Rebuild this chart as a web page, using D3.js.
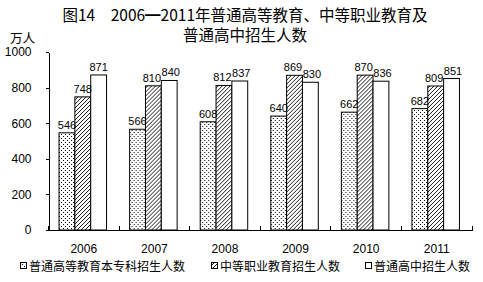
<!DOCTYPE html>
<html>
<head>
<meta charset="utf-8">
<script src="https://cdn.jsdelivr.net/npm/d3@7"></script>
<style>
  body { margin: 0; background: #fff; }
  svg { display: block; }
  .axis text { font-family: "Liberation Sans", Arial, sans-serif; font-size: 12px; fill: #000; }
  .axis path, .axis line { stroke: #000; shape-rendering: crispEdges; }
  .cjk { font-family: "Noto Sans CJK SC", sans-serif; fill: #000; }
  .lbl { font-family: "Liberation Sans", Arial, sans-serif; font-size: 11px; fill: #000; }
</style>
</head>
<body>
<svg id="chart" width="483" height="282"></svg>
<script>
var years = ['2006', '2007', '2008', '2009', '2010', '2011']
var higherEd = [546, 566, 608, 640, 662, 682]
var vocational = [748, 810, 812, 869, 870, 809]
var highSchool = [871, 840, 837, 830, 836, 851]
var seriesNames = ['普通高等教育本专科招生人数', '中等职业教育招生人数', '普通高中招生人数']
var yTicks = [0, 200, 400, 600, 800, 1000]

var seriesValues = [higherEd, vocational, highSchool]
var fills = ['url(#dots)', 'url(#hatch)', '#fff']

var svg = d3.select('#chart')

// patterns
var defs = svg.append('defs')
var dots = defs.append('pattern')
  .attr('id', 'dots')
  .attr('patternUnits', 'userSpaceOnUse')
  .attr('width', 4).attr('height', 4)
dots.append('rect').attr('width', 4).attr('height', 4).attr('fill', '#fff')
dots.append('rect').attr('x', 0).attr('y', 0).attr('width', 1).attr('height', 1).attr('fill', '#000')
dots.append('rect').attr('x', 2).attr('y', 2).attr('width', 1).attr('height', 1).attr('fill', '#000')

var hatch = defs.append('pattern')
  .attr('id', 'hatch')
  .attr('patternUnits', 'userSpaceOnUse')
  .attr('width', 4).attr('height', 4)
hatch.append('rect').attr('width', 4).attr('height', 4).attr('fill', '#fff')
hatch.append('path')
  .attr('d', 'M-1,1 l2,-2 M0,4 l4,-4 M3,5 l2,-2')
  .attr('stroke', '#000').attr('stroke-width', 0.9)

var plotLeft = 48.5, plotRight = 472, plotTop = 52, plotBottom = 230

var x0 = d3.scaleBand().domain(years).range([plotLeft, plotRight])
  .paddingInner(0.327).paddingOuter(0.1635)
var x1 = d3.scaleBand().domain([0, 1, 2]).range([0, x0.bandwidth()])
var y = d3.scaleLinear().domain([0, 1000]).range([plotBottom, plotTop])

// title
svg.append('text').attr('class', 'cjk')
  .attr('x', 245).attr('y', 21)
  .attr('text-anchor', 'middle').style('font-size', '15.5px')
  .text('图14\u30002006━2011年普通高等教育、中等职业教育及')
svg.append('text').attr('class', 'cjk')
  .attr('x', 245).attr('y', 41)
  .attr('text-anchor', 'middle').style('font-size', '15.5px')
  .text('普通高中招生人数')

svg.append('text').attr('class', 'cjk')
  .attr('x', 10).attr('y', 43)
  .style('font-size', '12.5px')
  .text('万人')

// bars
var groups = svg.selectAll('g.grp')
  .data(years)
  .enter().append('g')
    .attr('class', 'grp')
    .attr('transform', function (d) { return 'translate(' + (x0(d) - 1) + ',0)' })

function groupData (d, i) {
  return seriesValues.map(function (s, k) { return { k: k, v: s[i] } })
}

groups.selectAll('rect')
  .data(groupData)
  .enter().append('rect')
    .attr('x', function (d) { return x1(d.k) })
    .attr('y', function (d) { return y(d.v) })
    .attr('width', x1.bandwidth())
    .attr('height', function (d) { return plotBottom - y(d.v) })
    .attr('fill', function (d) { return fills[d.k] })
    .attr('stroke', '#000')
    .attr('stroke-width', 1)

groups.each(function () {
  var labels = d3.select(this).selectAll('text')
    .data(groupData.apply(null, [null, years.indexOf(d3.select(this).datum())]))
    .enter().append('text')
      .attr('class', 'lbl')
      .attr('x', function (d) { return x1(d.k) + x1.bandwidth() / 2 })
      .attr('y', function (d) { return y(d.v) - 4 })
      .attr('text-anchor', 'middle')
      .text(function (d) { return d.v })

  // push neighbouring labels apart when they sit at nearly the same height
  var nodes = labels.nodes()
  for (var k = 1; k < nodes.length; k++) {
    var a = d3.select(nodes[k - 1]), b = d3.select(nodes[k])
    var ya = +a.attr('y'), yb = +b.attr('y')
    if (Math.abs(ya - yb) > 9) continue
    var xa = +a.attr('x'), xb = +b.attr('x')
    var gap = (xb - xa) - (nodes[k - 1].getComputedTextLength() + nodes[k].getComputedTextLength()) / 2
    if (gap < 0.5) {
      var shift = (0.5 - gap) / 2
      a.attr('x', xa - shift)
      b.attr('x', xb + shift)
    }
  }
})

// axes
svg.append('g')
  .attr('class', 'axis')
  .attr('transform', 'translate(' + plotLeft + ',0)')
  .call(d3.axisLeft(y).tickValues(yTicks).tickFormat(d3.format('d'))
    .tickSize(3).tickSizeOuter(0).tickPadding(14))

var xAxis = svg.append('g')
  .attr('class', 'axis')
  .attr('transform', 'translate(0,' + plotBottom + ')')
  .call(d3.axisBottom(x0).tickSize(0).tickSizeOuter(0).tickPadding(14))

var step = x0.step()
xAxis.selectAll('line.sep')
  .data(d3.range(years.length + 1))
  .enter().append('line')
    .attr('class', 'sep')
    .attr('x1', function (i) { return plotLeft + i * step })
    .attr('x2', function (i) { return plotLeft + i * step })
    .attr('y1', 0).attr('y2', -4)

// legend
var legendX = [20, 211, 365]
var legend = svg.selectAll('g.leg')
  .data(seriesNames)
  .enter().append('g')
    .attr('class', 'leg')
    .attr('transform', function (d, i) { return 'translate(' + legendX[i] + ',266)' })

legend.append('rect')
  .attr('x', 0.5).attr('y', -3.5)
  .attr('width', 6).attr('height', 6)
  .attr('fill', function (d, i) { return fills[i] })
  .attr('stroke', '#000')

legend.append('text')
  .attr('class', 'cjk')
  .attr('x', 9).attr('y', 4.5)
  .style('font-size', '12px')
  .text(function (d) { return d })
</script>
</body>
</html>
